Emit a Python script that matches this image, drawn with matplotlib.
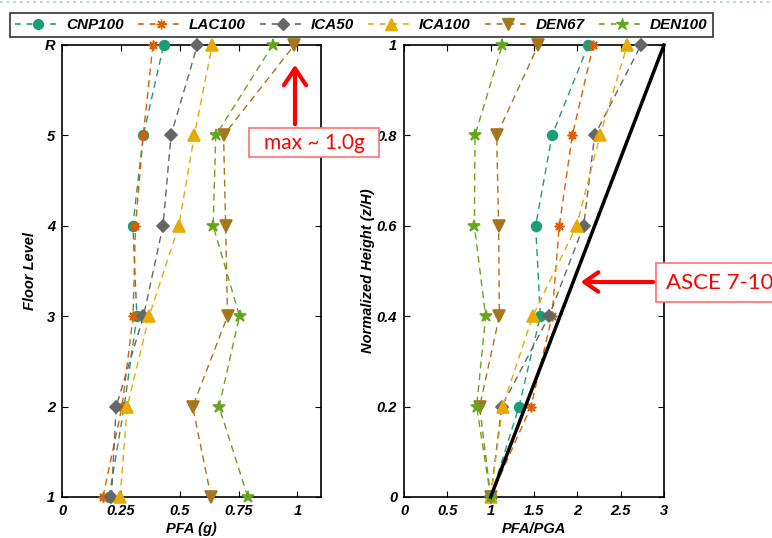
import numpy as np
import matplotlib
matplotlib.use('Agg')
import matplotlib.pyplot as plt
from matplotlib.lines import Line2D
from matplotlib.patches import Rectangle, FancyArrowPatch

# ── data ─────────────────────────────────────────────────────────────────────
series = ['CNP100', 'LAC100', 'ICA50', 'ICA100', 'DEN67', 'DEN100']
floor_labels = ['1', '2', '3', '4', '5', 'R']
floors = [1, 2, 3, 4, 5, 6]
z_h = [0.0, 0.2, 0.4, 0.6, 0.8, 1.0]

# PFA (g) per floor, floor 1 .. roof
pfa_cnp100 = [0.200, 0.264, 0.318, 0.301, 0.345, 0.432]
pfa_lac100 = [0.174, 0.255, 0.302, 0.312, 0.345, 0.386]
pfa_ica50 = [0.210, 0.230, 0.346, 0.429, 0.463, 0.575]
pfa_ica100 = [0.247, 0.277, 0.370, 0.496, 0.562, 0.638]
pfa_den67 = [0.633, 0.555, 0.703, 0.695, 0.686, 0.987]
pfa_den100 = [0.789, 0.667, 0.754, 0.642, 0.653, 0.895]

# PFA/PGA per normalized height
amp_cnp100 = [1.0, 1.327, 1.573, 1.519, 1.708, 2.127]
amp_lac100 = [1.0, 1.465, 1.708, 1.792, 1.942, 2.185]
amp_ica50 = [1.0, 1.127, 1.673, 2.073, 2.200, 2.735]
amp_ica100 = [1.0, 1.138, 1.485, 1.992, 2.262, 2.577]
amp_den67 = [1.0, 0.873, 1.100, 1.092, 1.069, 1.550]
amp_den100 = [1.0, 0.838, 0.942, 0.812, 0.819, 1.134]

# ASCE 7-10 design line
asce_x = [1.0, 3.0]
asce_y = [0.0, 1.0]

pfa_all = [pfa_cnp100, pfa_lac100, pfa_ica50, pfa_ica100, pfa_den67, pfa_den100]
amp_all = [amp_cnp100, amp_lac100, amp_ica50, amp_ica100, amp_den67, amp_den100]

colors = ['#1b9e77', '#d95f02', '#666666', '#e6ab02', '#a6761d', '#66a61e']
markers = ['o', (8, 2, 0), 'D', '^', 'v', '*']
msizes = [7, 7, 6.5, 8, 8, 9]

plt.rcParams['font.family'] = ['Liberation Sans', 'DejaVu Sans']

W, H = 772, 538
fig = plt.figure(figsize=(W / 100, H / 100), dpi=100)
ax1 = fig.add_axes([62 / W, 41 / H, 259 / W, 452 / H])
ax2 = fig.add_axes([404 / W, 41 / H, 260 / W, 452 / H])

tick_font = dict(fontsize=10.5, fontweight='bold', fontstyle='italic')


def px(x, y):
    # pixel position (from top-left) -> figure fraction
    return x / W, 1 - y / H


def draw(ax, xs_all, ys):
    for xs, c, m, ms in zip(xs_all, colors, markers, msizes):
        ax.plot(xs, ys, color=c, linestyle='--', dashes=(5, 3.5), lw=1.0,
                marker=m, markersize=ms, markerfacecolor=c,
                markeredgecolor=c, markeredgewidth=1.2, clip_on=False,
                zorder=3)
    ax.tick_params(direction='in', top=True, right=True, length=4, width=0.8,
                   pad=5)
    for s in ax.spines.values():
        s.set_linewidth(1.2)


draw(ax1, pfa_all, floors)
ax1.set_xlim(0, 1.1)
ax1.set_ylim(1, 6)
ax1.set_xticks([0, 0.25, 0.5, 0.75, 1])
ax1.set_xticklabels(['0', '0.25', '0.5', '0.75', '1'], **tick_font)
ax1.set_yticks(floors)
ax1.set_yticklabels(floor_labels, **tick_font)
ax1.set_xlabel('PFA (g)', labelpad=3, **tick_font)
ax1.set_ylabel('Floor Level', labelpad=5, **tick_font)

draw(ax2, amp_all, z_h)
ax2.plot(asce_x, asce_y, color='black', lw=2.5, zorder=4, clip_on=False)
ax2.set_xlim(0, 3)
ax2.set_ylim(0, 1)
ax2.set_xticks([0, 0.5, 1, 1.5, 2, 2.5, 3])
ax2.set_xticklabels(['0', '0.5', '1', '1.5', '2', '2.5', '3'], **tick_font)
ax2.set_yticks(z_h)
ax2.set_yticklabels(['0', '0.2', '0.4', '0.6', '0.8', '1'], **tick_font)
ax2.set_xlabel('PFA/PGA', labelpad=3, **tick_font)
ax2.set_ylabel('Normalized Height (z/H)', labelpad=1, **tick_font)

# ── legend across the top ────────────────────────────────────────────────────
handles = [Line2D([0], [0], color=c, linestyle='--', dashes=(3.5, 3.5), lw=1.2,
                  marker=m, markersize=ms, markerfacecolor=c, markeredgecolor=c)
           for c, m, ms in zip(colors, markers, msizes)]
leg = fig.legend(handles, series, loc='center', ncol=6,
                 bbox_to_anchor=px(361.5, 25),
                 prop=dict(family='Liberation Sans', size=11,
                           weight='bold', style='italic'),
                 frameon=True, fancybox=False, edgecolor='black',
                 handlelength=3.0, handletextpad=0.35, columnspacing=0.9,
                 borderpad=0.35, borderaxespad=0, numpoints=1)
leg.get_frame().set_linewidth(1.2)

# slide decoration: dotted line on top
fig.add_artist(Line2D([0.0, 1.0], [1 - 2 / H, 1 - 2 / H], color='#a9c4dc',
                      lw=1.2, linestyle=(0, (1.5, 2.5))))

# ── annotations ──────────────────────────────────────────────────────────────
note_font = dict(color='red', family=['Lato', 'DejaVu Sans'])

x0, y0 = px(249, 157)
fig.add_artist(Rectangle((x0, y0), 130 / W, 29 / H, transform=fig.transFigure,
                         facecolor='white', edgecolor='#ff7070', lw=1.2,
                         zorder=9))
fig.text(*px(314, 143), 'max ~ 1.0g', ha='center', va='center', fontsize=15,
         zorder=10, **note_font)
fig.add_artist(FancyArrowPatch(
    px(295, 127), px(295, 62), transform=fig.transFigure,
    arrowstyle='->,head_length=0.6,head_width=0.4',
    mutation_scale=20, color='red', lw=3, zorder=10))

x0, y0 = px(656, 302)
fig.add_artist(Rectangle((x0, y0), 130 / W, 39 / H, transform=fig.transFigure,
                         facecolor='white', edgecolor='#ff7070', lw=1.2,
                         zorder=9))
fig.text(*px(666, 283), 'ASCE 7-10', ha='left', va='center', fontsize=16,
         zorder=10, **note_font)
fig.add_artist(FancyArrowPatch(
    px(656, 282), px(578, 282), transform=fig.transFigure,
    arrowstyle='->,head_length=0.5,head_width=0.35',
    mutation_scale=20, color='red', lw=3, zorder=10))

fig.savefig('out.png', dpi=100)
